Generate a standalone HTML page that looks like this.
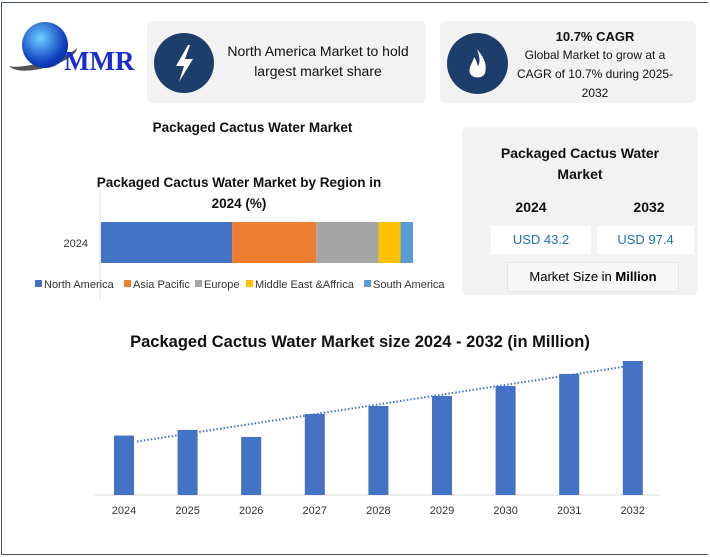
<!DOCTYPE html>
<html><head><meta charset="utf-8"><style>
body{margin:0;width:710px;height:557px;background:#fff;font-family:"Liberation Sans",sans-serif;position:relative;overflow:hidden}
.abs{position:absolute}
.card{position:absolute;background:#f2f2f2;border-radius:6px}
.t{position:absolute;text-align:center;color:#111}
</style></head><body>
<div class="abs" style="left:1px;top:2px;width:706px;height:551px;border:1.5px solid #4a5560;border-right:none"></div>

<div class="abs" style="left:8px;top:18px;width:130px;height:60px">
 <div class="abs" style="left:0;top:26px;width:70px;height:18px;border-radius:50%;border-bottom:6px solid #555;transform:rotate(-15deg)"></div>
 <div class="abs" style="left:14px;top:4px;width:46px;height:46px;border-radius:50%;background:radial-gradient(circle at 40% 35%,#6fd0ff,#1040c0 60%,#061a70)"></div>
 <div class="abs" style="left:56px;top:28px;font-family:'Liberation Serif',serif;font-weight:bold;font-size:27px;color:#1a2bd0">MMR</div>
</div>

<div class="card" style="left:147px;top:21px;width:279px;height:82px"></div>
<div class="abs" style="left:154px;top:33px;width:60px;height:60px;border-radius:50%;background:#1d3d6b">
<svg width="60" height="60"><polygon points="34,12 22,33 30,33 25,49 39,26 31,26 36,12" fill="#fff"/></svg></div>
<div class="t" style="left:218px;top:41px;width:200px;font-size:14px;line-height:20px">North America Market to hold largest market share</div>

<div class="card" style="left:440px;top:21px;width:256px;height:82px"></div>
<div class="abs" style="left:447px;top:33px;width:61px;height:61px;border-radius:50%;background:#1d3d6b">
<svg width="61" height="61"><path d="M30 16 C38 26 40 32 38 40 C36 46 25 46 23 40 C21 34 26 30 27 24 C30 28 30 31 31 33 C34 29 32 22 30 16Z" fill="#fff"/></svg></div>
<div class="t" style="left:510px;top:29px;width:170px;font-size:13px;font-weight:bold">10.7% CAGR</div>
<div class="t" style="left:510px;top:46px;width:170px;font-size:12px;line-height:19px">Global Market to grow at a CAGR of 10.7% during 2025-2032</div>

<div class="t" style="left:130px;top:120px;width:245px;font-size:13.5px;font-weight:bold">Packaged Cactus Water Market</div>
<div class="t" style="left:80px;top:172px;width:318px;font-size:13.5px;font-weight:bold;line-height:21px">Packaged Cactus Water Market by Region in 2024 (%)</div>

<svg class="abs" id="stack" style="left:0;top:0" width="460" height="300"></svg>

<div class="card" style="left:462px;top:127px;width:236px;height:168px"></div>
<div class="t" style="left:490px;top:143px;width:180px;font-size:14px;font-weight:bold;line-height:21px">Packaged Cactus Water Market</div>
<div class="t" style="left:500px;top:199px;width:62px;font-size:14px;font-weight:bold">2024</div>
<div class="t" style="left:618px;top:199px;width:62px;font-size:14px;font-weight:bold">2032</div>
<div class="abs" style="left:491px;top:226px;width:100px;height:28px;background:#fff;color:#1f6fb8;font-size:13px;text-align:center;line-height:28px">USD 43.2</div>
<div class="abs" style="left:597px;top:226px;width:97px;height:28px;background:#fff;color:#1f6fb8;font-size:13px;text-align:center;line-height:28px">USD 97.4</div>
<div class="abs" style="left:507px;top:262px;width:170px;height:28px;background:#f7f7f7;border:1px solid #e6e6e6;font-size:13px;text-align:center;line-height:28px">Market Size in <b>Million</b></div>

<div class="t" style="left:100px;top:333px;width:520px;font-size:16.5px;font-weight:bold">Packaged Cactus Water Market size 2024 - 2032 (in Million)</div>
<svg class="abs" id="bars" style="left:0;top:0" width="710" height="557"></svg>

<script>
const regions=["North America","Asia Pacific","Europe","Middle East &Affrica","South America"];
const shares=[42,27,20,7,4];
const regionColors=["#4472c4","#ed7d31","#a5a5a5","#ffc000","#5b9bd5"];
const years=["2024","2025","2026","2027","2028","2029","2030","2031","2032"];
const sizes=[43.2,47.3,42.2,58.9,64.7,72.0,79.2,88.0,97.4];
const NS="http://www.w3.org/2000/svg";
function mk(p,t,a){const e=document.createElementNS(NS,t);for(const k in a)e.setAttribute(k,a[k]);p.appendChild(e);return e;}
// stacked
const st=document.getElementById('stack');
const sx=v=>101+v*(312/100);
let ax=mk(st,'line',{x1:100,y1:190,x2:100,y2:300,stroke:'#ddd'});

let yl=mk(st,'text',{x:88,y:247,'font-size':11,'text-anchor':'end',fill:'#333','font-family':'Liberation Sans'});yl.textContent='2024';

let acc=0;
shares.forEach((s,i)=>{const r=mk(st,'rect',{x:sx(acc),y:222,width:sx(acc+s)-sx(acc),height:41,fill:regionColors[i]});

acc+=s;});
const lx=[35,124,195,246,364];
regions.forEach((n,i)=>{const g=mk(st,'g',{});


mk(g,'rect',{x:lx[i],y:280,width:7,height:7,fill:regionColors[i]});
const t=mk(g,'text',{x:lx[i]+9,y:288,'font-size':11,fill:'#333','font-family':'Liberation Sans'});t.textContent=n;});
// bars
const b=document.getElementById('bars');
const x0=124,dx=63.6,base=495,ky=134/97.4;
const X=i=>x0+i*dx,Y=v=>base-v*ky;
let bl=mk(b,'line',{x1:95,y1:base,x2:660,y2:base,stroke:'#d9d9d9'});

sizes.forEach((v,i)=>{const r=mk(b,'rect',{x:X(i)-10,y:Y(v),width:20,height:base-Y(v),fill:'#4472c4'});

const t=mk(b,'text',{x:X(i),y:514,'font-size':11,'text-anchor':'middle',fill:'#333','font-family':'Liberation Sans'});t.textContent=years[i];
});
// trendline (least squares)
const n=sizes.length;let mx=(n-1)/2,my=sizes.reduce((a,c)=>a+c,0)/n,num=0,den=0;
sizes.forEach((v,i)=>{num+=(i-mx)*(v-my);den+=(i-mx)*(i-mx);});
const sl=num/den,ic=my-sl*mx;
const tl=mk(b,'line',{x1:X(0)+13,y1:Y(ic+sl*0.2),x2:X(8)-8,y2:Y(ic+sl*7.87),stroke:'#4472c4','stroke-width':2,'stroke-dasharray':'1.5 2'});

</script>
</body></html>
